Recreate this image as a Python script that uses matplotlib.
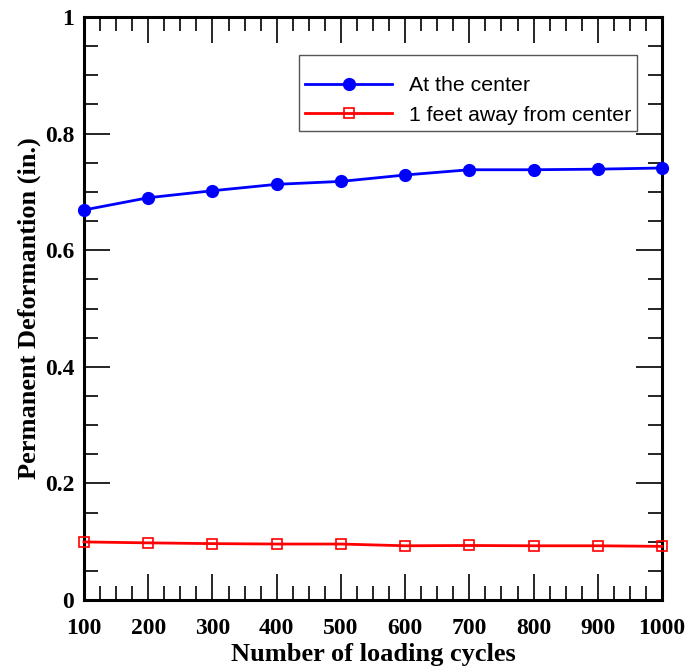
import numpy as np
import matplotlib
matplotlib.use('Agg')
import matplotlib.pyplot as plt
from matplotlib.ticker import MultipleLocator

cycles = [100, 200, 300, 400, 500, 600, 700, 800, 900, 1000]
center = [0.669, 0.690, 0.702, 0.713, 0.718, 0.729, 0.738, 0.738, 0.739, 0.741]
away = [0.0996, 0.098, 0.0967, 0.096, 0.096, 0.093, 0.0935, 0.093, 0.093, 0.092]

SERIF = 'Liberation Serif'
SANS = 'Liberation Sans'

fig = plt.figure(figsize=(6.88, 6.71), dpi=100)
ax = fig.add_axes([84 / 688, 1 - 600 / 671, (662 - 84) / 688, (600 - 17) / 671])

ax.plot(cycles, center, color='#0000ff', lw=2, marker='o', ms=8.5,
        label='At the center', clip_on=False, zorder=3)
ax.plot(cycles, away, color='#ff0000', lw=2, marker='s', ms=7.5, mfc='none',
        mew=1.2, label='1 feet away from center', clip_on=False, zorder=3)

ax.set_xlim(100, 1000)
ax.set_ylim(0, 1)
ax.xaxis.set_major_locator(MultipleLocator(100))
ax.xaxis.set_minor_locator(MultipleLocator(25))
ax.yaxis.set_major_locator(MultipleLocator(0.2))
ax.yaxis.set_minor_locator(MultipleLocator(0.05))
ax.set_yticks([0, 0.2, 0.4, 0.6, 0.8, 1.0])
ax.set_yticklabels(['0', '0.2', '0.4', '0.6', '0.8', '1'])

ax.tick_params(which='both', direction='in', top=True, right=True, width=1.2)
ax.tick_params(which='major', length=19)
ax.tick_params(which='minor', length=10)
ax.tick_params(axis='x', which='major', pad=13)
ax.tick_params(axis='y', which='major', pad=7)
for lab in ax.get_xticklabels() + ax.get_yticklabels():
    lab.set_family(SERIF)
    lab.set_weight('bold')
    lab.set_fontsize(17)

for sp in ax.spines.values():
    sp.set_linewidth(2.2)

ax.set_xlabel('Number of loading cycles', family=SERIF, weight='bold', fontsize=19, labelpad=3)
ax.set_ylabel('Permanent Deformantion (in.)', family=SERIF, weight='bold', fontsize=19, labelpad=3)

# the reference box has more room above the entries than below
leg = ax.legend(loc='upper right', bbox_to_anchor=(0.957, 0.935), borderaxespad=0,
                prop={'family': SANS, 'size': 15.3}, title=' ', title_fontsize=4,
                fancybox=False, framealpha=1, edgecolor='#555555', handlelength=4.1,
                borderpad=0.27, labelspacing=0.5)
leg.get_frame().set_linewidth(1.0)

fig.savefig('out.png', dpi=100)
